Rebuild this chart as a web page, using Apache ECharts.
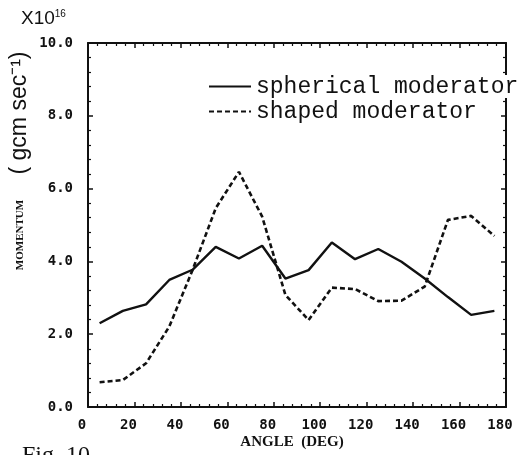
<!DOCTYPE html>
<html>
<head>
<meta charset="utf-8">
<script src="https://cdn.jsdelivr.net/npm/echarts@6.0.0/dist/echarts.min.js"></script>
<style>
  html, body { margin: 0; padding: 0; background: #fff; }
  #chart { width: 524px; height: 455px; }
</style>
</head>
<body>
<div id="chart"></div>
<script>
    // angulos medidos (grados)
    var angles = [5, 15, 25, 35, 45, 55, 65, 75, 85, 95, 105, 115, 125, 135, 145, 155, 165, 175];

    // momentum x10^16 g cm sec-1
    var spherical = [2.30, 2.64, 2.82, 3.49, 3.77, 4.40, 4.08, 4.43, 3.53, 3.76, 4.52, 4.06, 4.34, 3.99, 3.53, 3.02, 2.53, 2.64];
    var shaped = [0.68, 0.74, 1.20, 2.21, 3.76, 5.46, 6.46, 5.23, 3.08, 2.39, 3.28, 3.24, 2.91, 2.92, 3.31, 5.14, 5.25, 4.70];

    var seriesNames = ['spherical moderator', 'shaped moderator'];
    var xTicks = [0, 20, 40, 60, 80, 100, 120, 140, 160, 180];
    var yTicks = [0, 2, 4, 6, 8, 10];

    var ink = '#111';
    var labelFont = '"DejaVu Sans Mono", monospace';

    function pares(valores) {
        var out = [];
        angles.forEach(function (a, i) { out.push([a, valores[i]]); });
        return out;
    }

    // eje comun, ticks hacia dentro
    function eje(extra) {
        var base = {
            type: 'value',
            axisLine: { show: true, onZero: false, lineStyle: { color: ink, width: 2 } },
            axisTick: { show: true, inside: true, length: 5, lineStyle: { color: ink, width: 1.5 } },
            minorTick: { show: true, splitNumber: 5, length: 3, lineStyle: { color: ink, width: 1.2 } },
            splitLine: { show: false },
            minorSplitLine: { show: false },
            axisLabel: { show: false }
        };
        return Object.assign(base, extra);
    }

    var chart = echarts.init(document.getElementById('chart'));

    chart.setOption({
        animation: false,
        backgroundColor: '#fff',
        grid: { left: 88, right: 18, top: 43, bottom: 48 },
        legend: {
            orient: 'vertical',
            left: 208,
            top: 75,
            padding: 0,
            itemWidth: 42,
            itemHeight: 14,
            itemGap: 2,
            data: seriesNames,
            itemStyle: { opacity: 0 },
            textStyle: {
                fontFamily: '"Liberation Mono", monospace',
                fontSize: 23,
                color: ink,
                backgroundColor: '#fff'
            }
        },
        xAxis: [
            eje({
                min: xTicks[0], max: xTicks[xTicks.length - 1], interval: 20,
                position: 'bottom',
                axisLabel: {
                    show: true, margin: 11, color: ink,
                    fontFamily: labelFont, fontWeight: 'bold', fontSize: 14,
                    padding: [0, 12, 0, 0]
                }
            }),
            eje({ min: xTicks[0], max: xTicks[xTicks.length - 1], interval: 20, position: 'top' })
        ],
        yAxis: [
            eje({
                min: yTicks[0], max: yTicks[yTicks.length - 1], interval: 2,
                position: 'left',
                axisLabel: {
                    show: true, margin: 15, color: ink,
                    fontFamily: labelFont, fontWeight: 'bold', fontSize: 14,
                    formatter: function (v) { return v.toFixed(1); }
                }
            }),
            eje({ min: yTicks[0], max: yTicks[yTicks.length - 1], interval: 2, position: 'right' })
        ],
        series: [
            {
                name: seriesNames[0],
                type: 'line',
                symbol: 'none',
                data: pares(spherical),
                lineStyle: { color: ink, width: 2.4, type: 'solid' },
                itemStyle: { color: ink }
            },
            {
                name: seriesNames[1],
                type: 'line',
                symbol: 'none',
                data: pares(shaped),
                lineStyle: { color: ink, width: 2.6, type: [5, 3] },
                itemStyle: { color: ink }
            }
        ],
        graphic: [
            {
                type: 'text', left: 21, top: 9,
                style: {
                    text: '{a|X10}{b|16}',
                    fill: ink,
                    rich: {
                        a: { fontFamily: '"Liberation Sans", sans-serif', fontSize: 19, fill: ink },
                        b: { fontFamily: '"Liberation Sans", sans-serif', fontSize: 10, fill: ink, verticalAlign: 'top', padding: [0, 0, 8, 0] }
                    }
                }
            },
            {
                type: 'text', x: 20, y: 113, rotation: Math.PI / 2,
                style: {
                    text: '( gcm sec\u207B\u00B9)',
                    fill: ink,
                    font: '23px "Liberation Sans", sans-serif',
                    align: 'center', verticalAlign: 'middle'
                }
            },
            {
                type: 'text', x: 20, y: 235, rotation: Math.PI / 2,
                style: {
                    text: 'MOMENTUM',
                    fill: ink,
                    font: 'bold 11px "Liberation Serif", serif',
                    align: 'center', verticalAlign: 'middle'
                }
            },
            {
                type: 'text', x: 292, y: 442,
                style: {
                    text: 'ANGLE  (DEG)',
                    fill: ink,
                    font: 'bold 15px "Liberation Serif", serif',
                    align: 'center', verticalAlign: 'middle'
                }
            },
            {
                type: 'text', x: 22, y: 444,
                style: {
                    text: 'Fig. 10',
                    fill: ink,
                    font: '24px "Liberation Serif", serif',
                    align: 'left', verticalAlign: 'top'
                }
            }
        ]
    });
</script>
</body>
</html>
